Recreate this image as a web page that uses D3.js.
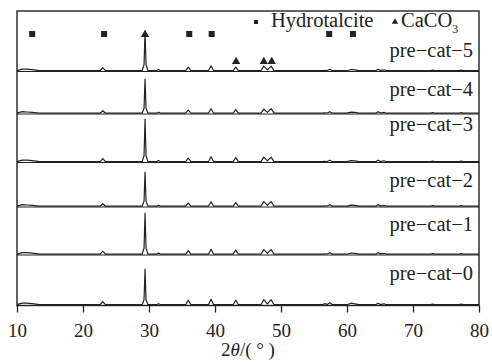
<!DOCTYPE html>
<html><head><meta charset="utf-8">
<script src="https://cdn.jsdelivr.net/npm/d3@7"></script>
<style>body{margin:0;background:#fff}svg{display:block}</style>
</head><body><svg id="c" width="492" height="362"></svg>
<script>
// ---- data ----
const samples = ["pre−cat−5","pre−cat−4","pre−cat−3","pre−cat−2","pre−cat−1","pre−cat−0"];
const twoTheta = [10,10.8,11.5,12.3,13.4, 22.6,23.0,23.4, 28.95,29.25,29.4,29.55,29.85, 31.15,31.45,31.75,
  35.55,35.95,36.35, 39.0,39.4,39.8, 42.75,43.15,43.55, 46.95,47.4,47.95,48.5,48.95,
  56.3,56.6,57.0,57.4,57.8, 60.0,60.6,61.2,61.8, 64.35,64.7,65.05,65.3,65.6,65.95, 72.7,73.0,73.3, 77.0,77.3,77.6, 80];
const int5 = [0,1.5,1.5,1,0, 0,3,0, 0,6,39.5,6,0, 0,1.2,0, 0,3.5,0, 0,5,0, 0,3.5,0, 0,4.5,0.8,4.5,0, 0,0.3,0.2,1.5,0, 0,1.2,0.8,0, 0,1.5,0.3,0.3,1,0, 0,0.5,0, 0,0.5,0, 0];
const int4 = [0,1.5,1.2,0.8,0, 0,2.5,0, 0,5,34,5,0, 0,1,0, 0,3,0, 0,4.5,0, 0,3.5,0, 0,4,0.8,4.5,0, 0,0.3,0.2,1.5,0, 0,1,0.8,0, 0,1.5,0.3,0.3,0.8,0, 0,0.5,0, 0,0.5,0, 0];
const int3 = [0,1.5,1.5,1,0, 0,3,0, 0,6,42.5,6,0, 0,1.2,0, 0,3.5,0, 0,5,0, 0,4,0, 0,4.5,0.8,4.5,0, 0,0.3,0.2,1.5,0, 0,1,0.8,0, 0,1.5,0.3,0.3,1,0, 0,0.5,0, 0,0.5,0, 0];
const int2 = [0,1.5,1.2,0.8,0, 0,2.5,0, 0,5,34,5,0, 0,1,0, 0,3,0, 0,4.5,0, 0,3.5,0, 0,4.5,0.8,4.5,0, 0,0.3,0.2,1.5,0, 0,1,0.8,0, 0,1.5,0.3,0.3,0.8,0, 0,0.5,0, 0,0.5,0, 0];
const int1 = [0,1.5,1.5,1,0, 0,3,0, 0,6,41,6,0, 0,1.2,0, 0,3.5,0, 0,5,0, 0,4,0, 0,4.5,0.8,4.5,0, 0,0.3,0.2,1.5,0, 0,1.2,0.8,0, 0,1.5,0.3,0.3,1,0, 0,0.5,0, 0,0.5,0, 0];
const int0 = [0,1.5,1.5,1,0, 0,3,0, 0,5,35.5,5,0, 0,1,0, 0,4.5,0, 0,5.5,0, 0,4.5,0, 0,5,0.8,5,0, 0,1,0.3,2,0, 0,1.5,0.8,0, 0,1.5,0.3,0.3,1,0, 0,0.5,0, 0,0.5,0, 0];
const intensities = [int5,int4,int3,int2,int1,int0];
const hydrotalcitePeaks = [12.3,23.2,36.1,39.5,57.3,60.9];
const caco3Peaks = [29.4,43.2,47.4,48.6];
const xTicks = [10,20,30,40,50,60,70,80];

// ---- layout ----
const FONT = "'Liberation Serif', 'Times New Roman', Times, serif";
const svg = d3.select("#c");
const L = 17, R = 479, T = 11, B = 305.5;
const bounds = [T,71.5,114,162.5,207,255,B]; // panel edges top->bottom
const labelOffset = [46,24.5,17,24.5,24,25];
const x = d3.scaleLinear().domain([10,80]).range([L,R]);
const ink = "#222";

// separators
svg.selectAll("line.sep").data(bounds.slice(1,-1)).join("line")
  .attr("x1",L).attr("x2",R).attr("y1",d=>d).attr("y2",d=>d)
  .attr("stroke",ink).attr("stroke-width",1);

// traces
samples.forEach((s,i)=>{
  const bottom = bounds[i+1];
  const y = d3.scaleLinear().domain([0,50]).range([bottom-0.8, bottom-50.8]);
  const line = d3.line().x((d,k)=>x(twoTheta[k])).y(d=>y(d));
  svg.append("path").attr("d",line(intensities[i]))
    .attr("fill","none").attr("stroke",ink).attr("stroke-width",1.2).attr("stroke-linejoin","round");
  svg.append("text").attr("x",473).attr("y",bounds[i]+labelOffset[i])
    .attr("text-anchor","end").style("font-family",FONT).style("font-size","20.5px").attr("fill",ink).text(s);
});

// frame
svg.append("rect").attr("x",L).attr("y",T).attr("width",R-L).attr("height",B-T)
  .attr("fill","none").attr("stroke",ink).attr("stroke-width",1.4);

// x axis
const ax = svg.append("g").attr("transform",`translate(0,${B})`)
  .call(d3.axisBottom(x).tickValues(xTicks).tickSize(7).tickFormat(d3.format("d")));
ax.select(".domain").remove();
ax.selectAll("line").attr("stroke",ink).attr("stroke-width",1.3);
ax.selectAll("text").style("font-size","19px").style("font-family",FONT).attr("fill",ink).attr("dy",null).attr("y",31.5);

const tt = svg.append("text").attr("x",248).attr("y",356).attr("text-anchor","middle")
  .style("font-size","19px").style("font-family",FONT).attr("fill",ink);
tt.append("tspan").text("2");
tt.append("tspan").attr("font-style","italic").text("θ");
tt.append("tspan").text("/( ° )");

// peak markers
const sq = 6;
svg.selectAll("rect.ht").data(hydrotalcitePeaks).join("rect")
  .attr("x",d=>x(d)-sq/2).attr("y",34-sq/2).attr("width",sq).attr("height",sq).attr("fill",ink);
const tri = d3.symbol().type(d3.symbolTriangle).size(30);
svg.selectAll("path.cc").data(caco3Peaks).join("path")
  .attr("d",tri).attr("fill",ink)
  .attr("transform",(d,k)=>`translate(${x(d)},${k===0?34.5:61.5})`);

// legend
svg.append("rect").attr("x",254).attr("y",20).attr("width",4).attr("height",4).attr("fill",ink);
svg.append("text").attr("x",271).attr("y",27).style("font-size","20.5px").style("font-family",FONT).attr("fill",ink).text("Hydrotalcite");
svg.append("path").attr("d",d3.symbol().type(d3.symbolTriangle).size(18)).attr("fill",ink)
  .attr("transform","translate(395,22)");
const lg = svg.append("text").attr("x",401).attr("y",27).style("font-size","20.5px").style("font-family",FONT).attr("fill",ink);
lg.append("tspan").text("CaCO");
lg.append("tspan").style("font-size","12px").attr("dy",6).text("3");
</script></body></html>
